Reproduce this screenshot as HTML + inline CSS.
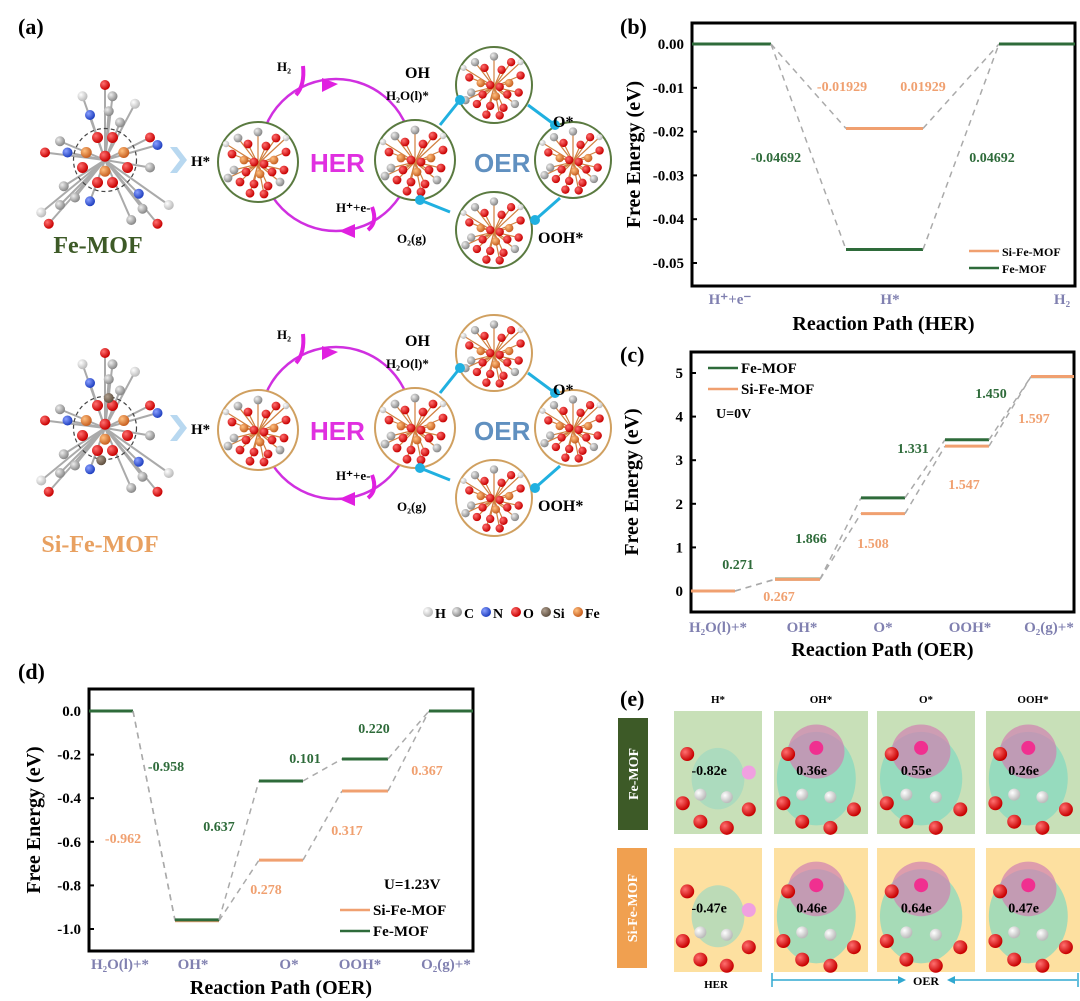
<!DOCTYPE html>
<html><head><meta charset="utf-8">
<style>
html,body{margin:0;padding:0;background:#fff;}
svg{display:block;font-family:"Liberation Serif",serif;font-weight:bold;}
</style></head>
<body>
<svg id="fig" width="1080" height="1001" viewBox="0 0 1080 1001" xmlns="http://www.w3.org/2000/svg">
<defs>
<radialGradient id="gO" cx="35%" cy="35%" r="65%"><stop offset="0" stop-color="#ff7070"/><stop offset="1" stop-color="#c80000"/></radialGradient>
<radialGradient id="gC" cx="35%" cy="35%" r="65%"><stop offset="0" stop-color="#eee"/><stop offset="1" stop-color="#888"/></radialGradient>
<radialGradient id="gF" cx="35%" cy="35%" r="65%"><stop offset="0" stop-color="#ffc080"/><stop offset="1" stop-color="#c86020"/></radialGradient>
<radialGradient id="gN" cx="35%" cy="35%" r="65%"><stop offset="0" stop-color="#8aa0ff"/><stop offset="1" stop-color="#2040c0"/></radialGradient>
<radialGradient id="gH" cx="35%" cy="35%" r="65%"><stop offset="0" stop-color="#fff"/><stop offset="1" stop-color="#bbb"/></radialGradient>
<radialGradient id="gS" cx="35%" cy="35%" r="65%"><stop offset="0" stop-color="#b0a090"/><stop offset="1" stop-color="#605040"/></radialGradient>
</defs>
<g id="panelA"></g>
<g id="panelB"></g>
<g id="panelC"></g>
<g id="panelD"></g>
<g id="panelE"></g>
</svg>
<script>
// ---------- chart data ----------
const herCategories = ["H⁺+e⁻", "H*", "H₂"];
const herFe = [0, -0.04692, 0];
const herSi = [0, -0.01929, 0];
const herTicks = ["0.00", "-0.01", "-0.02", "-0.03", "-0.04", "-0.05"];
const herTickValues = [0, -0.01, -0.02, -0.03, -0.04, -0.05];

const oerCategories = ["H₂O(l)+*", "OH*", "O*", "OOH*", "O₂(g)+*"];
const oer0Fe = [0, 0.271, 2.137, 3.468, 4.918];
const oer0Si = [0, 0.267, 1.775, 3.322, 4.919];
const oer0Ticks = ["0", "1", "2", "3", "4", "5"];
const oer0TickValues = [0, 1, 2, 3, 4, 5];

const oer1Fe = [0, -0.958, -0.321, -0.220, 0];
const oer1Si = [0, -0.962, -0.684, -0.367, 0];
const oer1Ticks = ["0.0", "-0.2", "-0.4", "-0.6", "-0.8", "-1.0"];
const oer1TickValues = [0, -0.2, -0.4, -0.6, -0.8, -1.0];

const GREEN = "#2e6b3a", ORANGE = "#f0a070", CATC = "#8080b0";
const NS = "http://www.w3.org/2000/svg";
function mk(tag, attrs, parent, txt) {
  const e = document.createElementNS(NS, tag);
  for (const k in attrs) e.setAttribute(k, attrs[k]);
  if (txt !== undefined) e.textContent = txt;
  parent.appendChild(e);
  return e;
}

function drawChart(g, cfg) {
  const y = v => cfg.y0 + (v - cfg.v0) * (cfg.y1 - cfg.y0) / (cfg.v1 - cfg.v0);
  const frame = mk('rect', {x: cfg.fx0, y: cfg.fy0, width: cfg.fx1 - cfg.fx0, height: cfg.fy1 - cfg.fy0, fill: 'none', stroke: '#000', 'stroke-width': 3}, g);
  
  
  cfg.tickValues.forEach((tv, i) => {
    const t = mk('line', {x1: cfg.fx0, x2: cfg.fx0 + 5, y1: y(tv), y2: y(tv), stroke: '#000', 'stroke-width': 2}, g);
    
    
    const l = mk('text', {x: cfg.fx0 - 8, y: y(tv) + 5, 'text-anchor': 'end', 'font-size': 15}, g, cfg.ticks[i]);
    
    
  });
  cfg.series.forEach(s => {
    const vals = s.vals;
    for (let i = 0; i < vals.length; i++) {
      const seg = cfg.segs[i];
      const ln = mk('line', {x1: seg[0], x2: seg[1], y1: y(vals[i]), y2: y(vals[i]), stroke: s.color, 'stroke-width': 3}, g);
      
      
      if (i < vals.length - 1) {
        const d = mk('line', {x1: seg[1], y1: y(vals[i]), x2: cfg.segs[i + 1][0], y2: y(vals[i + 1]), stroke: '#aaa', 'stroke-width': 1.5, 'stroke-dasharray': '6,5'}, g);
        
        
      }
    }
  });
  cfg.cats.forEach((c, i) => {
    const t = mk('text', {x: cfg.catX[i], y: cfg.catY, 'text-anchor': 'middle', 'font-size': 15, fill: CATC}, g, c);
    
    
  });
  const xt = mk('text', {x: (cfg.fx0 + cfg.fx1) / 2, y: cfg.xTitleY, 'text-anchor': 'middle', 'font-size': 20}, g, cfg.xTitle);
  
  
  const cy = (cfg.fy0 + cfg.fy1) / 2;
  const yt = mk('text', {x: cfg.yTitleX, y: cy, 'text-anchor': 'middle', 'font-size': 20, transform: `rotate(-90 ${cfg.yTitleX} ${cy})`}, g, 'Free Energy (eV)');
  
  
  const pl = mk('text', {x: cfg.labelX, y: cfg.labelY, 'font-size': 22}, g, cfg.panel);
  
  
  (cfg.annot || []).forEach(a => {
    const t = mk('text', {x: a[0], y: a[1], 'font-size': 14, fill: a[3], 'text-anchor': 'middle'}, g, a[2]);
    
    
  });
  (cfg.legend || []).forEach(L => {
    const ll = mk('line', {x1: L[0], x2: L[0] + 30, y1: L[1], y2: L[1], stroke: L[3], 'stroke-width': 2.5}, g);
    
    
    const lt = mk('text', {x: L[0] + 33, y: L[1] + 5, 'font-size': L[4] || 14}, g, L[2]);
    
    
  });
  (cfg.extra || []).forEach(a => {
    const t = mk('text', {x: a[0], y: a[1], 'font-size': a[3]}, g, a[2]);
    
    
  });
}

drawChart(document.getElementById('panelB'), {
  fx0: 692, fx1: 1075, fy0: 23, fy1: 286, v0: 0, v1: -0.05, y0: 44, y1: 263,
  ticks: herTicks, tickValues: herTickValues,
  segs: [[692, 771], [846, 923], [999, 1075]],
  series: [{name: 'si-fe-mof', vals: herSi, color: ORANGE}, {name: 'fe-mof', vals: herFe, color: GREEN}],
  cats: herCategories, catX: [730, 890, 1062], catY: 304,
  xTitle: 'Reaction Path (HER)', xTitleY: 330, yTitleX: 640,
  panel: '(b)', labelX: 620, labelY: 34,
  annot: [[842, 91, herSi[1].toFixed(5), ORANGE], [923, 91, (herSi[2] - herSi[1]).toFixed(5), ORANGE],
          [776, 162, herFe[1].toFixed(5), GREEN], [992, 162, (herFe[2] - herFe[1]).toFixed(5), GREEN]],
  legend: [[969, 251, 'Si-Fe-MOF', ORANGE, 12], [969, 268, 'Fe-MOF', GREEN, 12]]
});

drawChart(document.getElementById('panelC'), {
  fx0: 691, fx1: 1074, fy0: 352, fy1: 612, v0: 0, v1: 5, y0: 591, y1: 373,
  ticks: oer0Ticks, tickValues: oer0TickValues,
  segs: [[691, 735], [775, 820], [861, 905], [945, 989], [1031, 1074]],
  series: [{name: 'fe-mof', vals: oer0Fe, color: GREEN}, {name: 'si-fe-mof', vals: oer0Si, color: ORANGE}],
  cats: oerCategories, catX: [718, 802, 883, 970, 1049], catY: 632,
  xTitle: 'Reaction Path (OER)', xTitleY: 656, yTitleX: 638,
  panel: '(c)', labelX: 620, labelY: 362,
  annot: [[738, 569, (oer0Fe[1] - oer0Fe[0]).toFixed(3), GREEN], [779, 601, (oer0Si[1] - oer0Si[0]).toFixed(3), ORANGE],
          [811, 543, (oer0Fe[2] - oer0Fe[1]).toFixed(3), GREEN], [873, 548, (oer0Si[2] - oer0Si[1]).toFixed(3), ORANGE],
          [913, 453, (oer0Fe[3] - oer0Fe[2]).toFixed(3), GREEN], [964, 489, (oer0Si[3] - oer0Si[2]).toFixed(3), ORANGE],
          [991, 398, (oer0Fe[4] - oer0Fe[3]).toFixed(3), GREEN], [1034, 423, (oer0Si[4] - oer0Si[3]).toFixed(3), ORANGE]],
  legend: [[708, 368, 'Fe-MOF', GREEN, 15], [708, 389, 'Si-Fe-MOF', ORANGE, 15]],
  extra: [[716, 418, 'U=0V', 14]]
});

drawChart(document.getElementById('panelD'), {
  fx0: 89, fx1: 473, fy0: 689, fy1: 951, v0: 0, v1: -1.0, y0: 711, y1: 929,
  ticks: oer1Ticks, tickValues: oer1TickValues,
  segs: [[89, 133], [175, 219], [259, 303], [342, 388], [429, 473]],
  series: [{name: 'si-fe-mof', vals: oer1Si, color: ORANGE}, {name: 'fe-mof', vals: oer1Fe, color: GREEN}],
  cats: oerCategories, catX: [120, 193, 289, 360, 446], catY: 969,
  xTitle: 'Reaction Path (OER)', xTitleY: 994, yTitleX: 40,
  panel: '(d)', labelX: 18, labelY: 679,
  annot: [[166, 771, (oer1Fe[1] - oer1Fe[0]).toFixed(3), GREEN], [123, 843, (oer1Si[1] - oer1Si[0]).toFixed(3), ORANGE],
          [219, 831, (oer1Fe[2] - oer1Fe[1]).toFixed(3), GREEN], [266, 894, (oer1Si[2] - oer1Si[1]).toFixed(3), ORANGE],
          [305, 763, (oer1Fe[3] - oer1Fe[2]).toFixed(3), GREEN], [347, 835, (oer1Si[3] - oer1Si[2]).toFixed(3), ORANGE],
          [374, 733, (oer1Fe[4] - oer1Fe[3]).toFixed(3), GREEN], [427, 775, (oer1Si[4] - oer1Si[3]).toFixed(3), ORANGE]],
  legend: [[340, 910, 'Si-Fe-MOF', ORANGE, 15], [340, 931, 'Fe-MOF', GREEN, 15]],
  extra: [[384, 889, 'U=1.23V', 15]]
});

// ---------- panel a (decorative schematic) ----------
const A = document.getElementById('panelA');
const clusterPts = [[-0.5,-0.6,'C'],[0,-0.75,'C'],[0.45,-0.6,'O'],[-0.25,-0.45,'O'],[0.2,-0.4,'O'],[-0.65,-0.2,'O'],[-0.35,-0.05,'F'],[0.4,-0.05,'F'],[0.7,-0.25,'O'],[-0.1,0,'O'],[0.15,0.05,'O'],[-0.6,0.2,'C'],[-0.3,0.25,'O'],[0.05,0.3,'F'],[0.35,0.25,'O'],[0.65,0.2,'O'],[-0.45,0.5,'O'],[-0.1,0.55,'O'],[0.25,0.6,'O'],[0.55,0.5,'C'],[-0.75,0.4,'C'],[-0.2,0.78,'O'],[0.15,0.8,'O'],[0.7,-0.6,'H'],[-0.8,-0.45,'H']];
function cluster(cx, cy, r, ring) {
  const g = mk('g', {}, A);
  
  
  mk('circle', {cx, cy, r, fill: '#fff', stroke: ring, 'stroke-width': 2}, g);
  clusterPts.forEach(p => {
    mk('line', {x1: cx, y1: cy + r * 0.05, x2: cx + p[0] * r, y2: cy + p[1] * r, stroke: '#d08040', 'stroke-width': 1.2}, g);
  });
  clusterPts.forEach(p => {
    const fill = {C: 'url(#gC)', O: 'url(#gO)', F: 'url(#gF)', H: 'url(#gH)'}[p[2]];
    mk('circle', {cx: cx + p[0] * r, cy: cy + p[1] * r, r: p[2] === 'H' ? r * 0.08 : r * 0.11, fill}, g);
  });
}
const molPts = [[0,-1,'O'],[0.1,-0.85,'C'],[0.05,-0.65,'C'],[-0.2,-0.6,'N'],[0.2,-0.5,'C'],[-0.6,-0.25,'C'],[-0.8,-0.1,'O'],[-0.5,-0.1,'N'],[0.7,-0.2,'N'],[0.6,-0.3,'O'],[-0.4,0.5,'C'],[-0.2,0.55,'N'],[-0.6,0.6,'C'],[-0.75,0.85,'O'],[0.45,0.45,'N'],[0.5,0.65,'C'],[0.7,0.85,'O'],[0.35,0.8,'C'],[-0.55,0.35,'C'],[0.6,0.1,'C'],[-0.3,-0.85,'H'],[0.4,-0.75,'H'],[-0.85,0.7,'H'],[0.85,0.6,'H']];
function molecule(cx, cy, s, si) {
  const g = mk('g', {}, A);
  
  
  molPts.forEach(p => mk('line', {x1: cx, y1: cy, x2: cx + p[0] * s, y2: cy + p[1] * s, stroke: '#aaa', 'stroke-width': 2}, g));
  molPts.forEach(p => {
    const fill = {C: 'url(#gC)', O: 'url(#gO)', N: 'url(#gN)', H: 'url(#gH)'}[p[2]];
    mk('circle', {cx: cx + p[0] * s, cy: cy + p[1] * s, r: 5, fill}, g);
  });
  mk('circle', {cx, cy, r: s * 0.42, fill: 'none', stroke: '#444', 'stroke-dasharray': '4,3', 'stroke-width': 1.2}, g);
  const core = [[-0.25,-0.1,'F'],[0.25,-0.1,'F'],[0,0.15,'F'],[-0.1,-0.3,'O'],[0.1,-0.3,'O'],[-0.3,0.1,'O'],[0.3,0.1,'O'],[-0.1,0.3,'O'],[0.1,0.3,'O'],[0,-0.05,'O']];
  core.forEach(p => mk('circle', {cx: cx + p[0] * s, cy: cy + p[1] * s, r: 5.5, fill: p[2] === 'F' ? 'url(#gF)' : 'url(#gO)'}, g));
  if (si) { mk('circle', {cx: cx + 0.05 * s, cy: cy - 0.4 * s, r: 5, fill: 'url(#gS)'}, g); mk('circle', {cx: cx - 0.05 * s, cy: cy + 0.43 * s, r: 5, fill: 'url(#gS)'}, g); }
}
function txt(x, y, s, size, fill, name, anchor) {
  const t = mk('text', {x, y, 'font-size': size, fill: fill || '#000', 'text-anchor': anchor || 'start'}, A, s);
  
  
  return t;
}
function row(dy, ring, si) {
  molecule(105, 160 + dy, 75, si);
  mk('path', {d: `M170 ${147 + dy} L180 ${160 + dy} L170 ${173 + dy} L177 ${173 + dy} L187 ${160 + dy} L177 ${147 + dy} Z`, fill: '#b8d8f0'}, A);
  txt(191, 166 + dy, 'H*', 15, '#000', 'h-star-label');
  mk('circle', {cx: 336, cy: 155 + dy, r: 76, fill: 'none', stroke: '#d030e0', 'stroke-width': 2.5}, A);
  mk('path', {d: `M322 ${78 + dy} L338 ${84 + dy} L322 ${92 + dy} Z`, fill: '#e020e0'}, A);
  mk('path', {d: `M355 ${224 + dy} L339 ${231 + dy} L355 ${238 + dy} Z`, fill: '#e020e0'}, A);
  mk('path', {d: `M296 ${95 + dy} Q305 ${85 + dy} 303 ${66 + dy}`, fill: 'none', stroke: '#e020e0', 'stroke-width': 4}, A);
  mk('path', {d: `M368 ${230 + dy} Q378 ${222 + dy} 372 ${207 + dy}`, fill: 'none', stroke: '#e020e0', 'stroke-width': 4}, A);
  txt(277, 71 + dy, 'H₂', 13, '#000', 'h2-label');
  txt(336, 212 + dy, 'H⁺+e-', 13, '#000', 'proton-electron-label');
  txt(310, 172 + dy, 'HER', 26, '#e030e0', 'her-label').setAttribute('font-family', 'Liberation Sans');
  cluster(258, 162 + dy, 40, ring);
  cluster(415, 160 + dy, 40, ring);
  cluster(494, 85 + dy, 38, ring);
  cluster(573, 160 + dy, 38, ring);
  cluster(494, 230 + dy, 38, ring);
  txt(474, 172 + dy, 'OER', 26, '#6090c0', 'oer-label').setAttribute('font-family', 'Liberation Sans');
  [[440, 125, 460, 100], [528, 105, 555, 125], [560, 198, 535, 220], [450, 212, 420, 200]].forEach(a => {
    mk('line', {x1: a[0], y1: a[1] + dy, x2: a[2], y2: a[3] + dy, stroke: '#20b0e0', 'stroke-width': 3}, A);
    mk('circle', {cx: a[2], cy: a[3] + dy, r: 5, fill: '#20b0e0'}, A);
  });
  txt(405, 78 + dy, 'OH', 16, '#000', 'oh-label');
  txt(386, 100 + dy, 'H₂O(l)*', 13, '#000', 'water-label');
  txt(553, 127 + dy, 'O*', 16, '#000', 'o-label');
  txt(538, 243 + dy, 'OOH*', 16, '#000', 'ooh-label');
  txt(397, 243 + dy, 'O₂(g)', 13, '#000', 'o2-label');
}
row(0, '#5a7a40', false);
row(268, '#d0a060', true);
txt(18, 34, '(a)', 22, '#000', 'panel-label');
txt(98, 253, 'Fe-MOF', 24, '#3d5a27', 'fe-mof-title', 'middle');
txt(100, 552, 'Si-Fe-MOF', 24, '#e8a060', 'si-fe-mof-title', 'middle');
[['H', 'url(#gH)', 445], ['C', 'url(#gC)', 474], ['N', 'url(#gN)', 503], ['O', 'url(#gO)', 533], ['Si', 'url(#gS)', 563], ['Fe', 'url(#gF)', 595]].forEach(e => {
  mk('circle', {cx: e[2] - 10 - 7, cy: 612, r: 5, fill: e[1]}, A);
  txt(e[2] - 10, 618, e[0], 14, '#000', 'element-legend-entry');
});

// ---------- panel e ----------
const E = document.getElementById('panelE');
function et(x, y, s, size, fill, name, anchor, rot) {
  const t = mk('text', {x, y, 'font-size': size, fill, 'text-anchor': anchor || 'middle'}, E, s);
  if (rot) t.setAttribute('transform', `rotate(-90 ${x} ${y})`);
  
  
}
et(620, 706, '(e)', 22, '#000', 'panel-label', 'start');
const eCols = [[674, 762], [774, 868], [877, 975], [986, 1080]];
const eHead = ['H*', 'OH*', 'O*', 'OOH*'];
const eFe = ['-0.82e', '0.36e', '0.55e', '0.26e'];
const eSi = ['-0.47e', '0.46e', '0.64e', '0.47e'];
mk('rect', {x: 618, y: 718, width: 30, height: 112, fill: '#3d5a27'}, E);
mk('rect', {x: 617, y: 848, width: 30, height: 120, fill: '#f0a050'}, E);
et(638, 774, 'Fe-MOF', 14, '#fff', 'row-label-fe-mof', 'middle', true);
et(637, 908, 'Si-Fe-MOF', 14, '#fff', 'row-label-si-fe-mof', 'middle', true);
eCols.forEach((c, i) => {
  et((c[0] + c[1]) / 2, 703, eHead[i], 11, '#000', 'column-header');
  [[711, 834, '#c8e0b8', eFe[i]], [848, 972, '#fde0a0', eSi[i]]].forEach(r => {
    const w = c[1] - c[0], h = r[1] - r[0];
    const rr = mk('rect', {x: c[0], y: r[0], width: w, height: h, fill: r[2]}, E);
    
    
    if (i > 0) {
      mk('ellipse', {cx: c[0] + w * 0.45, cy: r[0] + h * 0.55, rx: w * 0.42, ry: h * 0.38, fill: '#80d8c0', opacity: 0.7}, E);
      mk('ellipse', {cx: c[0] + w * 0.45, cy: r[0] + h * 0.33, rx: w * 0.3, ry: h * 0.22, fill: '#d080b0', opacity: 0.7}, E);
      mk('circle', {cx: c[0] + w * 0.45, cy: r[0] + h * 0.3, r: 7, fill: '#f03090'}, E);
    } else {
      mk('ellipse', {cx: c[0] + w * 0.5, cy: r[0] + h * 0.55, rx: w * 0.3, ry: h * 0.25, fill: '#a0d8c0', opacity: 0.7}, E);
      mk('circle', {cx: c[0] + w * 0.85, cy: r[0] + h * 0.5, r: 7, fill: '#f0a0e0'}, E);
    }
    [[0.1, 0.75], [0.3, 0.9], [0.85, 0.8], [0.6, 0.95], [0.15, 0.35]].forEach(p =>
      mk('circle', {cx: c[0] + w * p[0], cy: r[0] + h * p[1], r: 7, fill: 'url(#gO)'}, E));
    [[0.3, 0.68], [0.6, 0.7]].forEach(p =>
      mk('circle', {cx: c[0] + w * p[0], cy: r[0] + h * p[1], r: 6, fill: 'url(#gH)'}, E));
    et(c[0] + w * 0.4, r[0] + h * 0.52, r[3], 14, '#000', 'charge-transfer-label');
  });
});
et(716, 988, 'HER', 11, '#000', 'her-axis-label');
et(926, 985, 'OER', 12, '#000', 'oer-axis-label');
mk('line', {x1: 772, y1: 980, x2: 898, y2: 980, stroke: '#30a8d0', 'stroke-width': 1.5}, E);
mk('line', {x1: 955, y1: 980, x2: 1077, y2: 980, stroke: '#30a8d0', 'stroke-width': 1.5}, E);
mk('line', {x1: 772, y1: 973, x2: 772, y2: 987, stroke: '#30a8d0', 'stroke-width': 1.5}, E);
mk('line', {x1: 1078, y1: 973, x2: 1078, y2: 987, stroke: '#30a8d0', 'stroke-width': 1.5}, E);
mk('path', {d: 'M898 976 L906 980 L898 984 Z', fill: '#30a8d0'}, E);
mk('path', {d: 'M955 976 L947 980 L955 984 Z', fill: '#30a8d0'}, E);
</script>
</body></html>
